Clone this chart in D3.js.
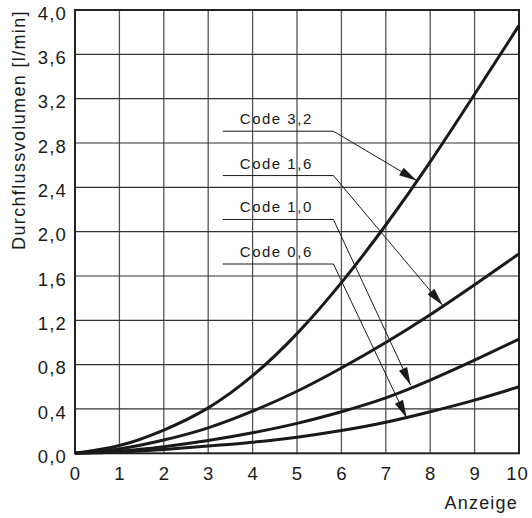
<!DOCTYPE html>
<html>
<head>
<meta charset="utf-8">
<script src="https://cdn.jsdelivr.net/npm/d3@7"></script>
<style>
  html, body { margin: 0; padding: 0; background: #fff; }
  svg { display: block; }
  text { font-family: "Liberation Sans", Arial, Helvetica, sans-serif; fill: #1a1a1a; }
</style>
</head>
<body>
<svg id="chart" width="532" height="518"></svg>
<script>
// Anzeige (scale reading) on the x axis
const anzeige = [0, 1, 2, 3, 4, 5, 6, 7, 8, 9, 10];
// Flow rate in l/min for each flow code
const code32 = [0, 0.07, 0.21, 0.41, 0.70, 1.08, 1.54, 2.06, 2.63, 3.24, 3.86];
const code16 = [0, 0.04, 0.12, 0.23, 0.38, 0.56, 0.77, 1.00, 1.25, 1.52, 1.80];
const code10 = [0, 0.02, 0.06, 0.115, 0.185, 0.27, 0.375, 0.50, 0.66, 0.84, 1.03];
const code06 = [0, 0.012, 0.035, 0.065, 0.10, 0.145, 0.205, 0.28, 0.375, 0.48, 0.60];
// Tick values
const xTicks = [0, 1, 2, 3, 4, 5, 6, 7, 8, 9, 10];
const yTicks = [0, 0.4, 0.8, 1.2, 1.6, 2.0, 2.4, 2.8, 3.2, 3.6, 4.0];
// Callout labels and the point on each curve the arrow points to
const codeLabels = ["Code 3,2", "Code 1,6", "Code 1,0", "Code 0,6"];
const arrowX = [7.70, 8.28, 7.56, 7.47];
const arrowY = [2.46, 1.335, 0.615, 0.318];
// Rows of the stacked callout labels (flow units)
const labelRowY = [2.906, 2.506, 2.110, 1.708];

const svg = d3.select("#chart");
const x = d3.scaleLinear().domain([0, 10]).range([75, 519]);
const y = d3.scaleLinear().domain([0, 4]).range([453.3, 10]);
const ink = "#1a1a1a";

// grid
const grid = svg.append("g");
grid.selectAll("line.v").data(xTicks.slice(1, -1)).join("line")
  .attr("x1", d => x(d)).attr("x2", d => x(d))
  .attr("y1", y(0)).attr("y2", y(4))
  .attr("stroke", "#555").attr("stroke-width", 1.3);
grid.selectAll("line.h").data(yTicks.slice(1, -1)).join("line")
  .attr("x1", x(0)).attr("x2", x(10))
  .attr("y1", d => y(d)).attr("y2", d => y(d))
  .attr("stroke", "#333").attr("stroke-width", 1.2);

// frame
svg.append("rect")
  .attr("x", x(0)).attr("y", y(4))
  .attr("width", x(10) - x(0)).attr("height", y(0) - y(4))
  .attr("fill", "none").attr("stroke", "#222").attr("stroke-width", 2);

const comma = v => d3.format(".1f")(v).replace(".", ",");

// y axis labels
const yAxis = svg.append("g").attr("transform", `translate(${x(0)},0)`)
  .call(d3.axisLeft(y).tickValues(yTicks).tickSize(0).tickPadding(8).tickFormat(comma));
yAxis.select(".domain").remove();
yAxis.selectAll("text")
  .attr("font-size", 18.5).attr("letter-spacing", 1.2)
  .attr("font-family", "Liberation Sans, Arial, sans-serif")
  .attr("fill", ink).attr("dy", "0.5em");

// x axis labels
const xAxis = svg.append("g").attr("transform", `translate(0,${y(0)})`)
  .call(d3.axisBottom(x).tickValues(xTicks).tickSize(0).tickPadding(14).tickFormat(d3.format("d")));
xAxis.select(".domain").remove();
xAxis.selectAll("text")
  .attr("font-size", 18.5).attr("letter-spacing", 1)
  .attr("font-family", "Liberation Sans, Arial, sans-serif")
  .attr("fill", ink);
xAxis.selectAll(".tick").filter(d => d === 10).select("text").attr("dx", -2);

// axis titles
svg.append("text")
  .attr("x", 518).attr("y", 509)
  .attr("text-anchor", "end")
  .attr("font-size", 18).attr("letter-spacing", 1.2)
  .text("Anzeige");
svg.append("text")
  .attr("transform", "translate(25,130) rotate(-90)")
  .attr("text-anchor", "middle")
  .attr("font-size", 18).attr("letter-spacing", 1.35)
  .text("Durchflussvolumen [l/min]");

// curves
const line = d3.line()
  .x((d, i) => x(anzeige[i]))
  .y(d => y(d))
  .curve(d3.curveNatural);
svg.append("g").selectAll("path")
  .data([code32, code16, code10, code06]).join("path")
  .attr("d", line)
  .attr("fill", "none").attr("stroke", ink)
  .attr("stroke-width", 3).attr("stroke-linejoin", "round");

// callouts
const callouts = svg.append("g");
codeLabels.forEach((lab, i) => {
  const uy = y(labelRowY[i]);
  const ux0 = x(3.33), ux1 = x(5.82);
  const tx = x(arrowX[i]), ty = y(arrowY[i]);
  callouts.append("text")
    .attr("x", ux0 + 17).attr("y", uy - 7)
    .attr("font-size", 15).attr("letter-spacing", 1.5)
    .text(lab);
  callouts.append("polyline")
    .attr("points", `${ux0},${uy} ${ux1},${uy} ${tx},${ty}`)
    .attr("fill", "none").attr("stroke", ink).attr("stroke-width", 1);
  // arrow head
  const ang = Math.atan2(ty - uy, tx - ux1);
  const len = 18, hw = 4.5;
  const bx = tx - len * Math.cos(ang), by = ty - len * Math.sin(ang);
  const px = -Math.sin(ang) * hw, py = Math.cos(ang) * hw;
  callouts.append("polygon")
    .attr("points", `${tx},${ty} ${bx + px},${by + py} ${bx - px},${by - py}`)
    .attr("fill", ink);
});
</script>
</body>
</html>
